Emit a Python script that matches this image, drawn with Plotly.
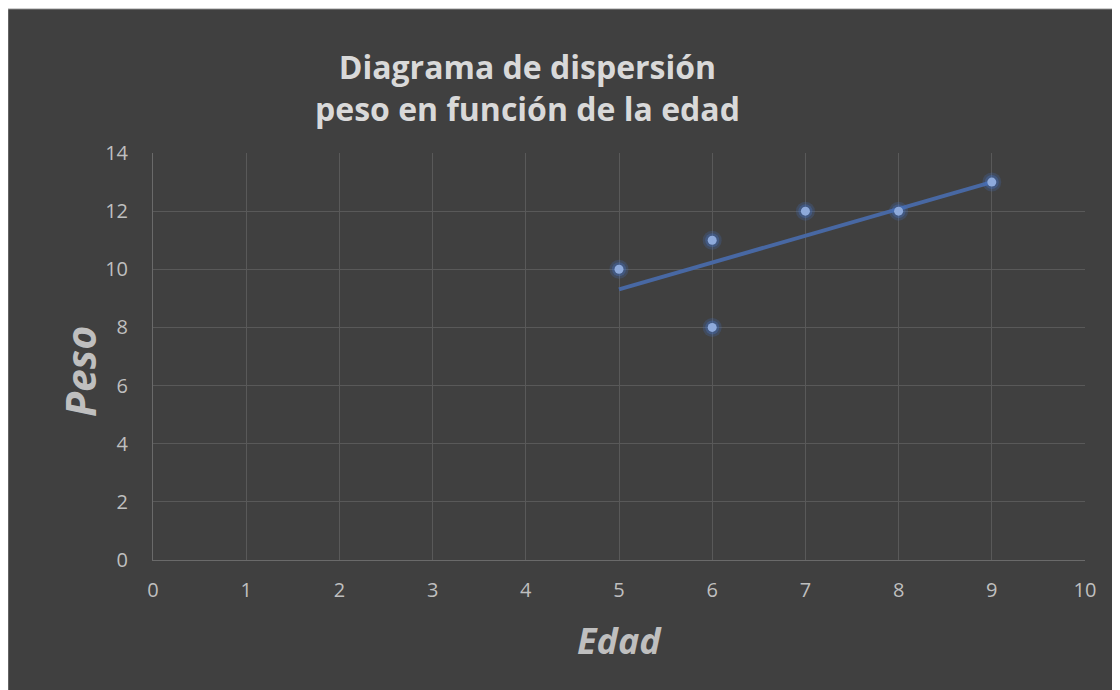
import numpy as np
import plotly.graph_objects as go

# Data
edad = [5, 6, 6, 7, 8, 9]
peso = [10, 11, 8, 12, 12, 13]
x_ticks = list(range(0, 11))
y_ticks = list(range(0, 15, 2))
title_lines = ["Diagrama de dispersión", "peso en función de la edad"]
x_title = "Edad"
y_title = "Peso"

# Linear trendline (least squares) from data
slope, intercept = np.polyfit(edad, peso, 1)
tx = [min(edad), max(edad)]
ty = [slope * v + intercept for v in tx]

W, H = 1120, 690
OFF = 8  # page body margin offset
# plot area in screen pixels: left 153, right 1085, top 153, bottom 560
L = 153 - OFF
T = 153 - OFF
R = W - (1085 - OFF)
B = H - (560 - OFF)
pw, ph = W - L - R, H - T - B

def px_x(p):  # screen pixel -> paper
    return (p - OFF - L) / pw

def px_y(p):
    return (H - B - (p - OFF)) / ph

BG = "#404040"
GRID = "#595959"
TXT = "#bfbfbf"
FONT = "Open Sans, Lato, sans-serif"

fig = go.Figure()
fig.add_trace(go.Scatter(x=tx, y=ty, mode="lines",
                         line=dict(color="#4868a3", width=4),
                         hoverinfo="skip", showlegend=False))
fig.add_trace(go.Scatter(x=edad, y=peso, mode="markers",
                         marker=dict(size=19, color="rgba(68,114,196,0.22)", line=dict(width=0)),
                         hoverinfo="skip", showlegend=False))
fig.add_trace(go.Scatter(x=edad, y=peso, mode="markers",
                         marker=dict(size=14, color="rgba(68,114,196,0.35)", line=dict(width=0)),
                         hoverinfo="skip", showlegend=False))
fig.add_trace(go.Scatter(x=edad, y=peso, mode="markers",
                         marker=dict(size=9, color="#8eaadb", line=dict(width=0)),
                         showlegend=False))

fig.add_shape(type="rect", xref="paper", yref="paper", layer="below",
              x0=px_x(OFF - 0.5), x1=px_x(1140), y0=px_y(710), y1=px_y(OFF + 0.5),
              fillcolor=BG, line=dict(color="#cfcfcf", width=1.5))

fig.add_annotation(xref="paper", yref="paper", x=px_x(527), y=px_y(88),
                   text="<b>" + title_lines[0] + "<br>" + title_lines[1] + "</b>",
                   showarrow=False, xanchor="center", yanchor="middle",
                   font=dict(family=FONT, size=32, color="#d9d9d9"))
fig.add_annotation(xref="paper", yref="paper", x=px_x(619), y=px_y(640),
                   text="<b><i>" + x_title + "</i></b>", showarrow=False,
                   xanchor="center", yanchor="middle",
                   font=dict(family=FONT, size=36, color=TXT))
fig.add_annotation(xref="paper", yref="paper", x=px_x(80), y=px_y(372),
                   text="<b><i>" + y_title + "</i></b>", showarrow=False,
                   textangle=-90, xanchor="center", yanchor="middle",
                   font=dict(family=FONT, size=41, color=TXT))

fig.update_layout(
    width=W, height=H,
    margin=dict(l=L, r=R, t=T, b=B, pad=0),
    paper_bgcolor=BG, plot_bgcolor=BG,
    font=dict(family=FONT, color=TXT, size=20),
    xaxis=dict(range=[0, 10], tickvals=x_ticks, ticktext=[str(v) for v in x_ticks],
               showgrid=True, gridcolor=GRID, gridwidth=1, zeroline=False,
               showline=True, linecolor="#6a6a6a", linewidth=1, mirror=False,
               ticks="", ticklabelstandoff=12, tickfont=dict(size=20, color=TXT)),
    yaxis=dict(range=[0, 14], tickvals=y_ticks, ticktext=[str(v) for v in y_ticks],
               showgrid=True, gridcolor=GRID, gridwidth=1, zeroline=False,
               showline=True, linecolor="#6a6a6a", linewidth=1,
               ticks="", ticklabelstandoff=20, tickfont=dict(size=20, color=TXT)),
)

fig.write_html("out.html")
